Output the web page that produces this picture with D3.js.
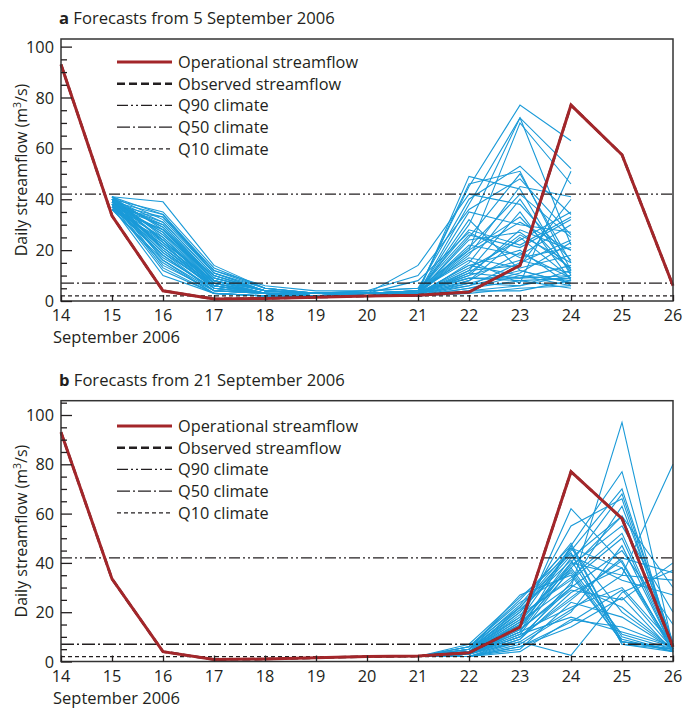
<!DOCTYPE html>
<html>
<head>
<meta charset="utf-8">
<script src="https://cdn.jsdelivr.net/npm/d3@7"></script>
<style>
  body { margin: 0; background: #fff; }
  text { font-family: "Open Sans", "DejaVu Sans", sans-serif; fill: #231f20; }
</style>
</head>
<body>
<div id="chart"></div>
<script>
// tick labels / x categories (days of September 2006)
const days = [14, 15, 16, 17, 18, 19, 20, 21, 22, 23, 24, 25, 26];

// operational and observed streamflow (m3/s), one value per day
const operationalA = [93, 33.5, 4, 0.8, 1, 1.5, 2, 2.3, 3.5, 14, 77, 57.5, 6];
const observedA = [93, 33.5, 4, 0.8, 1, 1.5, 2, 2.3, 3.5, 14, 77, 57.5, 6];
const operationalB = [93, 33.5, 4, 0.8, 1, 1.5, 2, 2.2, 3.5, 14, 77, 58, 6];
const observedB = [93, 33.5, 4, 0.8, 1, 1.5, 2, 2.2, 3.5, 14, 77, 58, 6];

// climate quantiles
const q90 = 42;
const q50 = 7;
const q10 = 2;

// ensemble members, panel a: days 15..24
const ensDaysA = [15, 16, 17, 18, 19, 20, 21, 22, 23, 24];
const ensembleA = [
  [41,39,14,5,3,3,4,45,77,63],
  [40,35,13,5,3,3,3,30,72,52],
  [39,34,12,6,4,4,5,20,70,46],
  [38,33,11,4,3,3,3,38,72,22],
  [40,31,10,4,3,3,4,46,51,12],
  [37,30,9,4,3,3,3,49,44,10],
  [41,32,11,5,3,4,5,40,53,34],
  [39,29,8,4,3,3,3,25,50,15],
  [36,28,9,4,3,2,3,18,45,41],
  [38,27,8,3,3,3,2,12,35,8],
  [40,26,10,4,3,3,3,35,30,27],
  [37,25,7,3,2,2,3,10,28,20],
  [39,24,6,3,2,3,4,28,22,33],
  [41,23,8,4,3,3,2,15,40,11],
  [38,22,7,3,2,2,3,8,25,9],
  [36,21,6,3,2,3,3,22,18,30],
  [40,20,5,3,2,2,2,6,15,24],
  [39,19,6,3,3,3,3,32,12,7],
  [37,18,4,3,2,2,2,5,10,8],
  [38,17,5,3,2,2,3,14,20,6],
  [41,16,4,3,2,3,4,9,8,5],
  [36,15,3,2,2,2,2,4,6,10],
  [40,14,4,3,2,2,3,20,33,12],
  [38,12,3,2,2,2,2,7,12,7],
  [37,10,3,2,2,2,2,3,5,6],
  [39,27,7,3,3,3,3,11,9,14],
  [40,29,9,4,3,3,8,27,17,21],
  [38,31,10,4,3,4,10,36,48,26],
  [36,24,6,3,2,3,14,42,38,16],
  [41,28,8,3,3,3,4,16,7,51],
  [39,26,7,3,3,3,3,12,14,40],
  [37,22,6,3,2,2,3,6,11,23],
  [40,20,5,3,2,3,3,24,27,13],
  [38,18,4,3,2,2,2,8,19,9],
  [36,33,12,5,3,3,3,13,24,35],
  [39,30,9,4,3,3,4,17,13,18],
  [41,25,6,3,2,2,3,10,16,11],
  [37,23,5,3,2,2,2,5,8,9],
  [40,21,5,3,2,3,3,19,31,20],
  [38,19,4,3,2,2,3,9,9,10],
  [36,16,3,2,2,2,2,4,4,8],
  [39,13,3,2,2,2,3,7,6,12],
  [41,34,11,4,3,3,3,21,42,25],
  [37,28,8,3,2,3,4,26,21,32],
  [40,24,7,3,3,3,3,14,10,6],
  [38,21,6,3,2,2,2,11,26,15]
];

// ensemble members, panel b: days 21..26
const ensDaysB = [21, 22, 23, 24, 25, 26];
const ensembleB = [
  [2,3,10,30,97,6],
  [2,4,15,62,40,5],
  [2,3,12,47,77,4],
  [2,5,20,45,70,7],
  [2,4,18,55,66,5],
  [2,3,14,42,59,6],
  [2,6,25,47,8,5],
  [2,4,22,44,7,4],
  [2,3,16,40,35,80],
  [2,2,8,2.5,28,37],
  [2,3,11,38,59,30],
  [2,5,27,35,8,6],
  [2,4,19,33,50,5],
  [2,3,13,30,45,15],
  [2,2,9,28,38,6],
  [2,4,17,46,20,5],
  [2,3,10,25,42,36],
  [2,5,21,41,10,4],
  [2,6,24,36,8,5],
  [2,3,12,22,30,7],
  [2,2,7,20,47,5],
  [2,4,15,39,55,20],
  [2,3,11,18,12,6],
  [2,2,6,14,26,4],
  [2,5,23,48,8,5],
  [2,4,20,43,33,27],
  [2,3,9,32,63,8],
  [2,2,5,24,18,5],
  [2,4,14,37,9,4],
  [2,3,13,29,25,40],
  [2,7,26,44,7,5],
  [2,5,18,34,52,6],
  [2,3,10,26,41,4],
  [2,2,4,17,14,6],
  [2,4,16,31,22,5],
  [2,3,12,40,68,7],
  [2,6,22,46,38,4],
  [2,3,8,21,35,33],
  [2,4,17,38,11,5],
  [2,2,6,16,29,5]
];

const yTicks = [0, 20, 40, 60, 80, 100];
const legendLabels = ["Operational streamflow", "Observed streamflow", "Q90 climate", "Q50 climate", "Q10 climate"];

const red = "#a3262a";
const blue = "#1a9ad8";
const ink = "#231f20";
const fs = 16.3;

const svg = d3.select("#chart").append("svg").attr("width", 685).attr("height", 711);

const xScale = d3.scaleLinear().domain([14, 26]).range([61, 673]);

function drawPanel(opt) {
  const yScale = d3.scaleLinear().domain([0, opt.yMax]).range([opt.bottom, opt.top]);
  const g = svg.append("g");

  // title
  const title = g.append("text").attr("x", 59).attr("y", opt.titleY).attr("font-size", 16.6);
  title.append("tspan").attr("font-weight", "bold").text(opt.letter);
  title.append("tspan").text(" " + opt.title);

  // y label, centred on the plot area
  const yl = g.append("text")
    .attr("transform", `translate(27,${(opt.top + opt.bottom) / 2}) rotate(-90)`)
    .attr("text-anchor", "middle")
    .attr("font-size", 16);
  yl.append("tspan").text("Daily streamflow (m");
  yl.append("tspan").attr("font-size", 10.5).attr("dy", -6.5).text("3");
  yl.append("tspan").attr("dy", 6.5).text("/s)");

  const line = d3.line().x(d => xScale(d[0])).y(d => yScale(d[1]));

  // ensemble members
  g.selectAll("path.ens")
    .data(opt.ensemble)
    .join("path")
    .attr("class", "ens")
    .attr("fill", "none")
    .attr("stroke", blue)
    .attr("stroke-width", 1.1)
    .attr("d", m => line(m.map((v, i) => [opt.ensDays[i], v])));

  // climate lines
  const climate = [
    { v: q90, dash: "11,3,2,3,2,3" },
    { v: q50, dash: "13,3,2,3" },
    { v: q10, dash: "4,3" }
  ];
  g.selectAll("line.clim")
    .data(climate)
    .join("line")
    .attr("class", "clim")
    .attr("x1", xScale(14)).attr("x2", xScale(26))
    .attr("y1", d => yScale(d.v)).attr("y2", d => yScale(d.v))
    .attr("stroke", ink)
    .attr("stroke-width", 1.3)
    .attr("stroke-dasharray", d => d.dash);

  // observed (black dashed), then operational (red) on top
  g.append("path")
    .datum(opt.observed.map((v, i) => [days[i], v]))
    .attr("fill", "none")
    .attr("stroke", ink)
    .attr("stroke-width", 2.5)
    .attr("stroke-dasharray", "8,4")
    .attr("d", line);

  g.append("path")
    .datum(opt.operational.map((v, i) => [days[i], v]))
    .attr("fill", "none")
    .attr("stroke", red)
    .attr("stroke-width", 3)
    .attr("d", line);

  // frame
  g.append("rect")
    .attr("x", xScale(14)).attr("y", opt.top)
    .attr("width", xScale(26) - xScale(14)).attr("height", opt.bottom - opt.top)
    .attr("fill", "none")
    .attr("stroke", "#333")
    .attr("stroke-width", 1.5);

  // y axis: inward ticks, minor every 5
  g.append("g").attr("transform", `translate(${xScale(14)},0)`)
    .call(d3.axisRight(yScale).tickValues(yTicks).tickSize(11).tickFormat(""))
    .call(a => a.select(".domain").remove())
    .call(a => a.selectAll("line").attr("stroke", ink).attr("stroke-width", 1.3));
  const minor = d3.range(5, opt.yMax, 5).filter(v => v % 20 !== 0);
  g.append("g").attr("transform", `translate(${xScale(14)},0)`)
    .call(d3.axisRight(yScale).tickValues(minor).tickSize(6).tickFormat(""))
    .call(a => a.select(".domain").remove())
    .call(a => a.selectAll("line").attr("stroke", ink).attr("stroke-width", 1.3));
  g.selectAll("text.ylab")
    .data(yTicks)
    .join("text")
    .attr("class", "ylab")
    .attr("x", 54)
    .attr("y", d => yScale(d) + 6)
    .attr("text-anchor", "end")
    .attr("font-size", fs)
    .text(d => d);

  // x axis: inward ticks
  g.append("g").attr("transform", `translate(0,${opt.bottom})`)
    .call(d3.axisTop(xScale).tickValues(days).tickSize(6).tickFormat(""))
    .call(a => a.select(".domain").remove())
    .call(a => a.selectAll("line").attr("stroke", ink).attr("stroke-width", 1.3));
  g.selectAll("text.xlab")
    .data(days)
    .join("text")
    .attr("class", "xlab")
    .attr("x", d => xScale(d))
    .attr("y", opt.bottom + 20)
    .attr("text-anchor", "middle")
    .attr("font-size", fs)
    .text(d => d);
  g.append("text")
    .attr("x", 53).attr("y", opt.bottom + 42)
    .attr("font-size", 16.5)
    .text("September 2006");

  // legend
  const styles = [
    { stroke: red, w: 3, dash: null },
    { stroke: ink, w: 2.5, dash: "8,4" },
    { stroke: ink, w: 1.3, dash: "11,3,2,3,2,3" },
    { stroke: ink, w: 1.3, dash: "13,3,2,3" },
    { stroke: ink, w: 1.3, dash: "4,3" }
  ];
  const leg = g.append("g");
  legendLabels.forEach((lab, i) => {
    const y = opt.legendY + i * 21.7;
    leg.append("line")
      .attr("x1", 117).attr("x2", 172)
      .attr("y1", y).attr("y2", y)
      .attr("stroke", styles[i].stroke)
      .attr("stroke-width", styles[i].w)
      .attr("stroke-dasharray", styles[i].dash);
    leg.append("text")
      .attr("x", 178).attr("y", y + 6)
      .attr("font-size", fs)
      .text(lab);
  });
}

drawPanel({
  letter: "a", title: "Forecasts from 5 September 2006", titleY: 24,
  top: 39, bottom: 301, yMax: 103, legendY: 62,
  ensemble: ensembleA, ensDays: ensDaysA,
  operational: operationalA, observed: observedA
});

drawPanel({
  letter: "b", title: "Forecasts from 21 September 2006", titleY: 386,
  top: 400.7, bottom: 661.5, yMax: 105.8, legendY: 426,
  ensemble: ensembleB, ensDays: ensDaysB,
  operational: operationalB, observed: observedB
});
</script>
</body>
</html>
